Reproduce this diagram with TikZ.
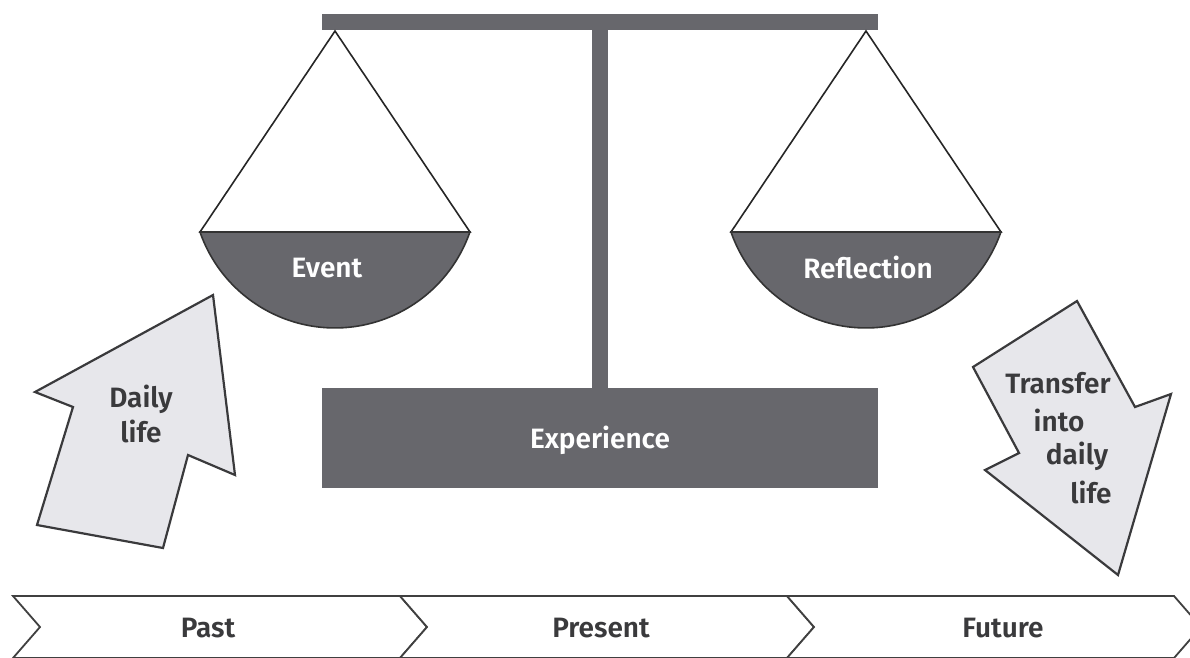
\documentclass[tikz,border=0pt]{standalone}
\usepackage{fontspec}
\newfontfamily\lblfont{Fira Sans SemiBold}
\definecolor{scalegray}{HTML}{67676C}
\definecolor{arrowfill}{HTML}{E7E7EB}
\definecolor{inkdark}{HTML}{3A3A3C}
\begin{document}
\begin{tikzpicture}[x=1pt,y=-1pt,
  lbl/.style={font=\lblfont\fontsize{28}{35}\selectfont, inner sep=0pt, align=center},
  whitelbl/.style={lbl, text=white},
  darklbl/.style={lbl, text=inkdark},
  cord/.style={draw=black!85, line width=1.6pt, line join=miter},
  bowl/.style={fill=scalegray, draw=black!80, line width=1.6pt},
  bar/.style={fill=scalegray, draw=none},
  flowarrow/.style={fill=arrowfill, draw=inkdark, line width=2.2pt, line join=miter},
  chevron/.style={fill=white, draw=black!75, line width=1.8pt, line join=miter}]

\useasboundingbox (0,0) rectangle (1190,657);

% beam and post of the balance
\fill[bar] (322,14) rectangle (878,30);
\fill[bar] (592,30) rectangle (608,389);

% base
\fill[bar] (322,388) rectangle (878,488);
\node[whitelbl] (experience) at (600,440) {Experience};

% left pan
\draw[cord, fill=white] (335,31) -- (200,232) -- (470,232) -- cycle;
\draw[bowl] (200,232) arc[start angle=160.8, end angle=19.2, radius=142.9] -- cycle;
\node[whitelbl] (event) at (327,268) {Event};

% right pan
\draw[cord, fill=white] (866,31) -- (731,232) -- (1001,232) -- cycle;
\draw[bowl] (731,232) arc[start angle=160.8, end angle=19.2, radius=142.9] -- cycle;
\node[whitelbl] (reflection) at (868,267) {Reflection};

% incoming arrow
\draw[flowarrow] (213,295) -- (235,475) -- (188,455) -- (163,548)
  -- (37,525) -- (73,407) -- (35,392) -- cycle;
\node[darklbl] (daily) at (141,414) {Daily\\life};

% outgoing arrow
\draw[flowarrow] (1077,301) -- (1135,407) -- (1171,394) -- (1118,575)
  -- (985,470) -- (1019,453) -- (973,367) -- cycle;
\node[darklbl] (transfer) at (1058,383) {Transfer};
\node[darklbl] (into) at (1059,420) {into};
\node[darklbl] (dailyb) at (1077,456) {daily};
\node[darklbl] (lifeb) at (1091,492) {life};

% time line
\foreach \xa in {13,400,787}{
  \draw[chevron] (\xa,596) -- (\xa+387,596) -- (\xa+414,627) -- (\xa+387,658)
    -- (\xa,658) -- (\xa+27,627) -- cycle;
}
\node[darklbl] (past) at (208,628) {Past};
\node[darklbl] (present) at (601,628) {Present};
\node[darklbl] (future) at (1003,628) {Future};
\end{tikzpicture}
\end{document}
